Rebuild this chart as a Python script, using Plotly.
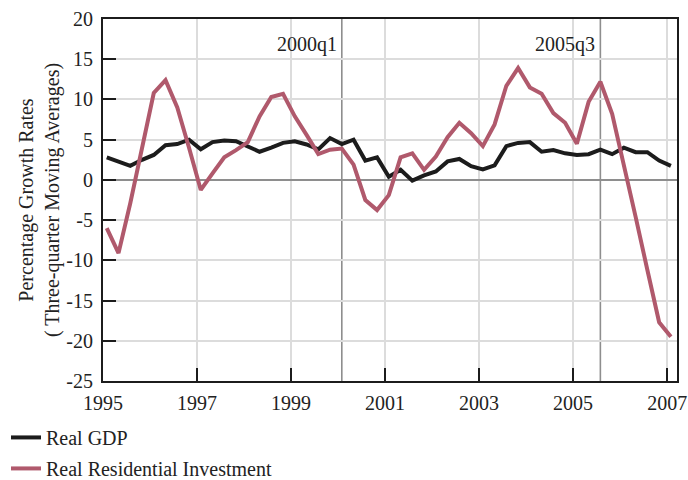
import plotly.graph_objects as go

# ---- data -------------------------------------------------------------
start_year = 1995
n_quarters = 49  # 1995q1 .. 2007q1

real_gdp = [2.8, 2.3, 1.75, 2.5, 3.1, 4.3, 4.45, 5.0, 3.8, 4.7, 4.9, 4.8,
            4.2, 3.5, 4.0, 4.6, 4.8, 4.4, 3.8, 5.2, 4.45, 5.0, 2.4, 2.8,
            0.4, 1.25, -0.1, 0.55, 1.05, 2.3, 2.6, 1.7, 1.3, 1.8, 4.2, 4.6,
            4.7, 3.5, 3.7, 3.3, 3.1, 3.2, 3.75, 3.2, 4.0, 3.45, 3.45, 2.4,
            1.75]

real_res_inv = [-6.0, -9.1, -2.9, 3.9, 10.8, 12.4, 9.0, 4.0, -1.25, 0.8,
                2.8, 3.7, 4.7, 7.9, 10.3, 10.7, 7.9, 5.6, 3.2, 3.75, 3.9,
                1.9, -2.5, -3.75, -1.9, 2.8, 3.3, 1.25, 2.9, 5.3, 7.1, 5.8,
                4.2, 6.9, 11.7, 13.9, 11.5, 10.7, 8.3, 7.1, 4.5, 9.7, 12.2,
                8.2, 2.0, -4.6, -11.2, -17.7, -19.5]

x_tick_vals = [1995, 1997, 1999, 2001, 2003, 2005, 2007]
x_tick_text = ["1995", "1997", "1999", "2001", "2003", "2005", "2007"]
y_tick_vals = [-25, -20, -15, -10, -5, 0, 5, 10, 15, 20]
y_tick_text = ["-25", "-20", "-15", "-10", "-5", "0", "5", "10", "15", "20"]

marker_quarters = [(2000, 1, "2000q1"), (2005, 3, "2005q3")]

# position of each quarter inside its year on the axis
QOFF = 0.08


def qpos(year, q):
    return year + (q - 1) / 4 + QOFF


x = [qpos(start_year + i // 4, i % 4 + 1) for i in range(n_quarters)]

FONT = "Liberation Serif"
RED = "#b0596c"
BLACK = "#1c1c1c"
GRID = "#dcdcdc"
MID = "#8e8e8e"

fig = go.Figure()
fig.add_trace(go.Scatter(x=x, y=real_gdp, mode="lines", name="Real GDP",
                         line=dict(color=BLACK, width=4), legendgroup="a"))
fig.add_trace(go.Scatter(x=x, y=real_res_inv, mode="lines",
                         name="Real Residential Investment",
                         line=dict(color=RED, width=4), legendgroup="b"))

for yr, q, lab in marker_quarters:
    xv = qpos(yr, q)
    fig.add_shape(type="line", x0=xv, x1=xv, y0=0, y1=1, yref="paper",
                  line=dict(color=MID, width=1.6), layer="below")
    fig.add_annotation(x=xv, y=16.8, text=lab, showarrow=False,
                       xanchor="right", yanchor="middle", xshift=-3,
                       font=dict(family=FONT, size=20, color="#222"))

fig.update_layout(
    width=688, height=480,
    margin=dict(l=103, r=11, t=19, b=99, autoexpand=False),
    paper_bgcolor="white", plot_bgcolor="white",
    font=dict(family=FONT, size=20, color="#222"),
    showlegend=True,
    legend=dict(x=-0.169, y=-0.102, xanchor="left", yanchor="top",
                orientation="v", traceorder="grouped", tracegroupgap=2,
                font=dict(family=FONT, size=20, color="#222"),
                bgcolor="rgba(0,0,0,0)"),
)

fig.update_xaxes(range=[1995, 2007.21], tickvals=x_tick_vals,
                 ticktext=x_tick_text, ticks="inside", ticklen=13,
                 tickwidth=2, tickcolor=BLACK, showgrid=True,
                 gridcolor=GRID, gridwidth=2, showline=True,
                 linecolor=BLACK, linewidth=2, mirror=True, zeroline=False,
                 automargin=False, ticklabelstandoff=3,
                 ticklabeloverflow="allow",
                 tickfont=dict(family=FONT, size=20, color="#222"))

fig.update_yaxes(range=[-25, 20], tickvals=y_tick_vals, ticktext=y_tick_text,
                 ticks="inside", ticklen=13, tickwidth=2, tickcolor=BLACK,
                 showgrid=True, gridcolor=GRID, gridwidth=2,
                 zeroline=True, zerolinecolor=MID, zerolinewidth=2,
                 showline=True, linecolor=BLACK, linewidth=2, mirror=True,
                 ticklabelstandoff=4, automargin=False,
                 tickfont=dict(family=FONT, size=20, color="#222"),
                 title=dict(text="Percentage Growth Rates<br>( Three-quarter Moving Averages)",
                            font=dict(family=FONT, size=20, color="#222"),
                            standoff=1))

# remove the browser's default page margin so the figure fills the window
fig.write_html("out.html",
               config={"displayModeBar": False},
               post_script="document.body.style.margin='0px';"
                           "document.body.style.overflow='hidden';")
